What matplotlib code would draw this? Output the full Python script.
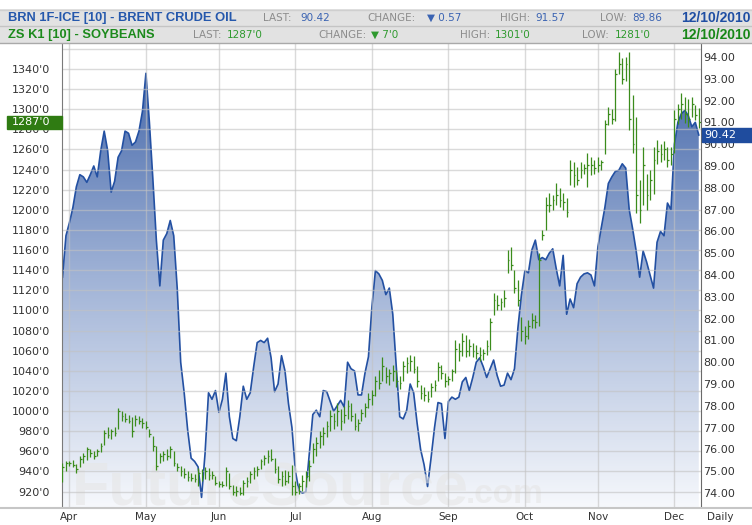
import numpy as np
import pandas as pd
import matplotlib
matplotlib.use("Agg")
import matplotlib.pyplot as plt
import matplotlib.transforms as mtransforms
from matplotlib.colors import LinearSegmentedColormap
from matplotlib.patches import Polygon, Rectangle
from matplotlib.lines import Line2D

# --- DATA (one value per weekday) ---
dates = pd.bdate_range("2010-03-30", "2010-12-10")

brent = [
    83.9, 85.8, 86.4, 87.1, 88.05, 88.6, 88.5, 88.25, 88.6, 89.0,
    88.5, 89.7, 90.6, 89.7, 87.8, 88.3, 89.4, 89.7, 90.6, 90.5,
    89.95, 90.1, 90.6, 91.5, 93.25, 91.0, 88.4, 85.6, 83.5, 85.6,
    85.9, 86.5, 85.8, 83.4, 80.0, 78.6, 76.9, 75.6, 75.45, 75.2,
    73.8, 75.8, 78.6, 78.3, 78.7, 77.7, 78.3, 79.5, 77.5, 76.5,
    76.4, 77.5, 78.9, 78.3, 78.6, 79.8, 80.9, 81.0, 80.9, 81.1,
    80.2, 78.65, 79.0, 80.3, 79.6, 78.1, 77.0, 75.0, 74.1, 74.0,
    74.05, 75.8, 77.6, 77.8, 77.5, 78.7, 78.65, 78.2, 77.75, 78.0,
    78.25, 77.95, 80.0, 79.7, 79.6, 78.5, 78.5, 79.5, 80.25, 82.55,
    84.2, 84.05, 83.75, 83.1, 83.4, 82.2, 79.8, 77.5, 77.4, 77.8,
    79.0, 78.6, 77.2, 76.0, 75.3, 74.3, 75.6, 77.0, 78.15, 78.1,
    76.5, 78.2, 78.4, 78.3, 78.4, 79.1, 79.3, 78.7, 79.3, 80.0,
    80.2, 79.8, 79.3, 79.7, 80.1, 79.4, 78.9, 78.95, 79.5, 79.2,
    79.7, 81.6, 83.1, 84.2, 84.1, 85.15, 85.6, 84.7, 84.8, 84.7,
    85.0, 85.2, 84.3, 83.5, 84.9, 82.2, 82.9, 82.5, 83.6, 83.9,
    84.05, 84.1, 84.0, 83.5, 85.3, 86.2, 87.1, 88.2, 88.5, 88.75,
    88.8, 89.1, 88.9, 87.0, 86.1, 85.1, 83.9, 85.1, 84.6, 84.0,
    83.4, 85.5, 86.0, 85.8, 87.3, 87.0, 90.0, 91.0, 91.4, 91.55,
    91.3, 90.8, 91.0, 90.42,
]

soy_high = [
    948, 950, 950, 951, 947, 955, 958, 964, 962, 960,
    962, 968, 981, 984, 982, 984, 1003, 1000, 998, 996,
    994, 996, 995, 993, 990, 982, 975, 965, 958, 960,
    962, 965, 960, 948, 945, 943, 940, 938, 937, 943,
    942, 944, 943, 940, 935, 930, 930, 944, 938, 926,
    925, 924, 931, 934, 940, 944, 945, 952, 956, 961,
    962, 953, 945, 940, 941, 940, 946, 930, 928, 936,
    940, 951, 968, 974, 980, 984, 990, 1001, 998, 1008,
    1002, 1005, 1011, 1008, 998, 992, 1002, 1008, 1018, 1021,
    1035, 1041, 1054, 1044, 1042, 1046, 1041, 1035, 1050, 1054,
    1056, 1055, 1045, 1026, 1024, 1020, 1028, 1031, 1049, 1046,
    1038, 1035, 1042, 1071, 1068, 1078, 1076, 1072, 1068, 1066,
    1064, 1062, 1071, 1092, 1117, 1115, 1112, 1120, 1160, 1163,
    1140, 1130, 1093, 1085, 1090, 1097, 1095, 1157, 1180, 1213,
    1217, 1215, 1227, 1222, 1217, 1212, 1250, 1248, 1243, 1248,
    1246, 1256, 1252, 1250, 1252, 1250, 1289, 1302, 1300, 1340,
    1357, 1351, 1352, 1357, 1314, 1292, 1230, 1262, 1236, 1240,
    1262, 1269, 1265, 1268, 1262, 1262, 1299, 1305, 1316, 1312,
    1310, 1312, 1304, 1301,
]

soy_low = [
    929, 940, 945, 944, 938, 944, 948, 951, 954, 952,
    955, 959, 966, 973, 972, 975, 982, 990, 989, 988,
    974, 985, 987, 983, 982, 974, 960, 941, 948, 950,
    951, 953, 945, 940, 935, 933, 930, 930, 929, 925,
    930, 932, 931, 932, 926, 924, 924, 925, 922, 917,
    916, 917, 917, 924, 928, 932, 935, 942, 946, 948,
    950, 938, 928, 925, 926, 928, 917, 917, 918, 921,
    924, 930, 948, 955, 963, 966, 974, 980, 982, 985,
    981, 988, 992, 990, 981, 980, 990, 994, 1003, 1006,
    1015, 1022, 1030, 1028, 1026, 1030, 1024, 1022, 1030, 1038,
    1040, 1038, 1024, 1012, 1010, 1009, 1014, 1020, 1030, 1032,
    1024, 1026, 1030, 1038, 1050, 1055, 1054, 1055, 1054, 1052,
    1050, 1051, 1056, 1061, 1095, 1100, 1100, 1103, 1137, 1140,
    1117, 1104, 1070, 1067, 1072, 1083, 1083, 1085, 1170, 1180,
    1198, 1200, 1205, 1203, 1200, 1193, 1225, 1223, 1225, 1232,
    1236, 1223, 1235, 1236, 1238, 1240, 1255, 1284, 1285, 1288,
    1335, 1325, 1328, 1279, 1256, 1197, 1187, 1205, 1200, 1210,
    1216, 1246, 1248, 1250, 1243, 1245, 1256, 1285, 1290, 1286,
    1282, 1292, 1289, 1281,
]

soy_close = [
    944, 948, 948, 946, 942, 952, 955, 962, 958, 955,
    960, 965, 978, 976, 980, 978, 1000, 995, 992, 990,
    980, 992, 990, 988, 984, 977, 965, 945, 955, 957,
    955, 962, 948, 944, 940, 937, 934, 933, 932, 938,
    935, 940, 936, 936, 928, 927, 926, 940, 925, 920,
    921, 919, 928, 930, 937, 940, 942, 950, 953, 955,
    952, 942, 932, 935, 930, 935, 925, 920, 925, 930,
    935, 945, 962, 968, 975, 978, 985, 995, 990, 1000,
    990, 996, 1005, 995, 985, 988, 998, 1004, 1012, 1016,
    1030, 1028, 1045, 1035, 1038, 1040, 1030, 1028, 1045, 1048,
    1050, 1042, 1030, 1018, 1016, 1012, 1024, 1026, 1044, 1038,
    1030, 1032, 1040, 1062, 1060, 1070, 1060, 1065, 1060, 1058,
    1056, 1058, 1065, 1088, 1110, 1105, 1108, 1112, 1150, 1145,
    1122, 1110, 1080, 1075, 1085, 1090, 1088, 1150, 1175, 1205,
    1205, 1210, 1215, 1210, 1208, 1198, 1240, 1235, 1230, 1240,
    1242, 1245, 1245, 1242, 1245, 1248, 1285, 1295, 1290, 1335,
    1345, 1330, 1345, 1290, 1265, 1215, 1200, 1245, 1215, 1230,
    1250, 1258, 1255, 1260, 1250, 1255, 1290, 1300, 1305, 1295,
    1290, 1305, 1294, 1287,
]

soy_ticks = list(range(920, 1361, 20))
brent_ticks = list(range(74, 95))
month_names = ["Apr", "May", "Jun", "Jul", "Aug", "Sep", "Oct", "Nov", "Dec"]

header_brent = [("LAST:", "90.42"), ("CHANGE:", "\u25bc 0.57"), ("HIGH:", "91.57"), ("LOW:", "89.86")]
header_soy = [("LAST:", "1287'0"), ("CHANGE:", "\u25bc 7'0"), ("HIGH:", "1301'0"), ("LOW:", "1281'0")]

# --- COLOURS ---
BLUE_TXT = "#2558ac"
BLUE_VAL = "#3a63b2"
GREEN_TXT = "#1c8a1c"
GREEN_VAL = "#2f9a2f"
GRAY_TXT = "#8c8c8c"
LINE_BLUE = "#2350a2"
BAR_GREEN = "#3b8c1c"

W, H = 752, 525
fig = plt.figure(figsize=(W / 100, H / 100), dpi=100)
fig.patch.set_facecolor("white")


def fx(x):
    return x / W


def fy(y):
    return 1 - y / H


# plot box in pixels
left, right, top, bottom = 62.3, 700.5, 43, 507
ax = fig.add_axes([fx(left), fy(bottom), (right - left) / W, (bottom - top) / H])
ax2 = ax.twinx()

x = np.arange(len(dates))
x_lim = (-0.05, 183.5)
brent_lim = (73.36, 94.64)
soy_lim = (904.6, 1365.8)

# --- BRENT: gradient area on the primary axes (drawn first) ---
cmap = LinearSegmentedColormap.from_list("area", ["#f6f8fc", "#9fb2d6", "#3c60a5"])
verts = [(x[0], brent_lim[0])] + list(zip(x, brent)) + [(x[-1], brent_lim[0])]
poly = Polygon(verts, closed=True, facecolor="none", edgecolor="none")
ax.add_patch(poly)
img = ax.imshow(np.linspace(0, 1, 256).reshape(-1, 1), cmap=cmap, origin="lower",
                extent=[x[0], x[-1], brent_lim[0], brent_lim[1]], aspect="auto",
                interpolation="bilinear", zorder=1)
img.set_clip_path(poly)
ax.plot(x, brent, color=LINE_BLUE, lw=1.2, zorder=3)

ax.set_xlim(*x_lim)
ax.set_ylim(*brent_lim)
ax.yaxis.tick_right()
ax.set_yticks(brent_ticks, [f"{v:.2f}" for v in brent_ticks])
ax.tick_params(axis="y", length=0, pad=1.8, labelsize=8, labelcolor="#333333")
ax.xaxis.set_visible(False)

# --- SOYBEANS: OHLC-style bars on the twin axes ---
ax2.yaxis.tick_left()
ax2.xaxis.set_visible(True)
ax2.set_xlim(*x_lim)
ax2.set_ylim(*soy_lim)
ax2.set_yticks(soy_ticks, [f"{v}'0" if v <= 1340 else "" for v in soy_ticks])
month_idx = [int(np.where(dates.month == m)[0][0]) for m in range(4, 13)]
ax2.set_xticks(month_idx, month_names)
ax2.tick_params(axis="y", length=0, pad=8.9, labelsize=8, labelcolor="#333333")
ax2.tick_params(axis="x", length=0, pad=3.6, labelsize=7.5, labelcolor="#333333")
ax2.set_axisbelow(True)
ax2.grid(True, color="#c2c2c2", alpha=0.6, lw=1.0)

ax2.vlines(x, soy_low, soy_high, color=BAR_GREEN, lw=0.9, zorder=3)
ax2.hlines(soy_close, x, x + 0.5, color=BAR_GREEN, lw=0.9, zorder=3)

# faint watermark, clipped to the plot area
for txt, xp, yp, size in [("FutureSource", 72, 505, 44), (".com", 466, 503, 24)]:
    wm = ax2.text(fx(xp), fy(yp), txt, transform=fig.transFigure, fontsize=size,
                  fontweight="bold", family="Liberation Sans", color="#e6e6e6",
                  alpha=0.6, va="baseline", ha="left", zorder=0.3)
    wm.set_clip_path(ax2.patch)

for a in (ax, ax2):
    a.spines["top"].set_visible(False)
    a.spines["bottom"].set_visible(False)
ax.spines["left"].set_visible(False)
ax.spines["right"].set_color("#6a6a6a")
ax2.spines["right"].set_visible(False)
ax2.spines["left"].set_color("#7a7a7a")

# --- last-value boxes on the axes ---
tr_soy = mtransforms.blended_transform_factory(fig.transFigure, ax2.transData)
tr_brent = mtransforms.blended_transform_factory(fig.transFigure, ax.transData)
fig.add_artist(Rectangle((fx(7), soy_close[-1] - 6.5), 55 / W, 13, transform=tr_soy,
                         facecolor="#2f7b12", edgecolor="#2f7b12", zorder=5))
fig.text(fx(50), soy_close[-1], f"{soy_close[-1]}'0", transform=tr_soy, color="white",
         fontsize=8, ha="right", va="center", zorder=6)
fig.add_artist(Rectangle((fx(702), brent[-1] - 0.3), 50 / W, 0.6, transform=tr_brent,
                         facecolor="#1f4c9e", edgecolor="#1f4c9e", zorder=5))
fig.text(fx(704), brent[-1], f"{brent[-1]:.2f}", transform=tr_brent, color="white",
         fontsize=8, ha="left", va="center", zorder=6)

# --- frame lines ---
fig.add_artist(Line2D([0, 1], [fy(507.5)] * 2, color="#c6c6c6", lw=1.5))
fig.text(fx(720), fy(517), "Daily", fontsize=7.5, color="#333333", ha="center", va="center")

# --- header ---
fig.add_artist(Rectangle((0, fy(43)), 1, (43 - 9) / H, facecolor="#e2e2e2",
                         edgecolor="none", zorder=1))
for yy, col in [(9.5, "#cfcfcf"), (26, "#c4c4c4"), (42.5, "#a9a9a9")]:
    fig.add_artist(Line2D([0, 1], [fy(yy)] * 2, color=col, lw=1, zorder=2))

fig.text(fx(8), fy(18), "BRN 1F-ICE [10] - BRENT CRUDE OIL", family="Liberation Sans",
         fontweight="bold", fontsize=9.3, color=BLUE_TXT, va="center", zorder=3)
fig.text(fx(8), fy(35), "ZS K1 [10] - SOYBEANS", family="Liberation Sans",
         fontweight="bold", fontsize=9.3, color=GREEN_TXT, va="center", zorder=3)

brent_pos = [(263, 300), (367, 427), (500, 535), (600, 632)]
soy_pos = [(193, 227), (318, 371), (460, 495), (582, 615)]
for (lab, val), (xl, xv) in zip(header_brent, brent_pos):
    fig.text(fx(xl), fy(18), lab, fontsize=7.5, color=GRAY_TXT, va="center", zorder=3)
    fig.text(fx(xv), fy(18), val, fontsize=7.5, color=BLUE_VAL, va="center", zorder=3)
for (lab, val), (xl, xv) in zip(header_soy, soy_pos):
    fig.text(fx(xl), fy(35), lab, fontsize=7.5, color=GRAY_TXT, va="center", zorder=3)
    fig.text(fx(xv), fy(35), val, fontsize=7.5, color=GREEN_VAL, va="center", zorder=3)

fig.text(fx(751), fy(18), "12/10/2010", family="Liberation Sans", fontweight="bold",
         fontsize=10, color="#1f4ea3", ha="right", va="center", zorder=3)
fig.text(fx(751), fy(35), "12/10/2010", family="Liberation Sans", fontweight="bold",
         fontsize=10, color="#178717", ha="right", va="center", zorder=3)

fig.savefig("out.png", dpi=100)
